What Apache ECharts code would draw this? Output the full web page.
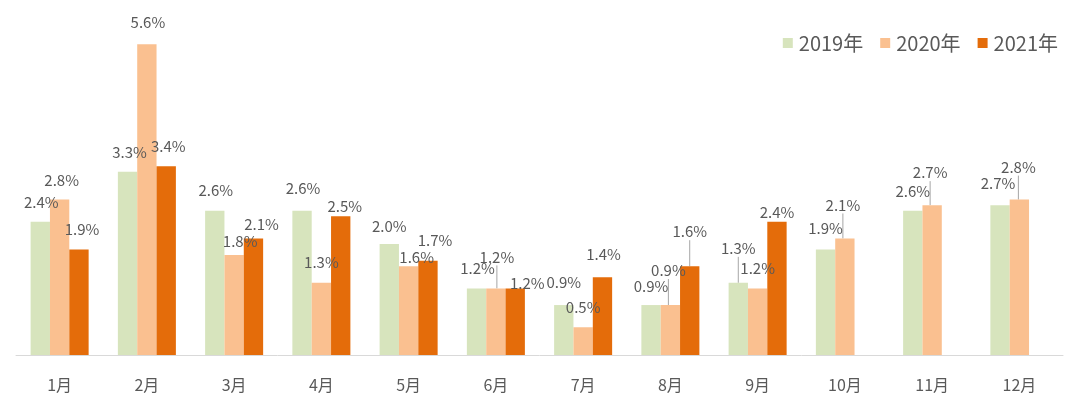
<!DOCTYPE html>
<html>
<head>
<meta charset="utf-8">
<script src="https://cdn.jsdelivr.net/npm/echarts@6/dist/echarts.min.js"></script>
<style>
html,body{margin:0;padding:0;background:#fff;}
#chart{width:1080px;height:417px;}
</style>
</head>
<body>
<div id="chart"></div>
<script>
// ---- data ----
var categories = ['1月','2月','3月','4月','5月','6月','7月','8月','9月','10月','11月','12月'];
var seriesNames = ['2019年','2020年','2021年'];
var values2019 = [2.4, 3.3, 2.6, 2.6, 2.0, 1.2, 0.9, 0.9, 1.3, 1.9, 2.6, 2.7];
var values2020 = [2.8, 5.6, 1.8, 1.3, 1.6, 1.2, 0.5, 0.9, 1.2, 2.1, 2.7, 2.8];
var values2021 = [1.9, 3.4, 2.1, 2.5, 1.7, 1.2, 1.4, 1.6, 2.4, null, null, null];

// ---- label placement tweaks (style, not data) ----
var labelShift = [
  [[1,1],[2,1],[1,0],[1,-2],[0,3],[1,0],[0,-2],[0,2],[0,-14],[0,-1],[0,1],[-2,-1]],
  [[2,1],[1,-1],[6,7],[0,0],[8,12],[1,-11],[0,1],[-2,-14],[0,0],[-2,-13],[-2,-12],[-1,-12]],
  [[3,0],[2,0],[8,6],[4,11],[7,0],[12,15],[1,-3],[0,-14],[0,11],[0,0],[0,0],[0,0]]
];
var leaderItems = [[8],[5,7,9,10,11],[7]];

var colors = ['#d7e4bd', '#fac090', '#e46c0a'];
var font = '"Noto Sans CJK SC", "Noto Sans", sans-serif';

function buildData(vals, si) {
  return vals.map(function (v, i) {
    var item = { value: v };
    if (leaderItems[si].indexOf(i) >= 0) {
      item.labelLine = { show: true };
    }
    return item;
  });
}

var allValues = [values2019, values2020, values2021];
var series = allValues.map(function (vals, si) {
  return {
    name: seriesNames[si],
    type: 'bar',
    data: buildData(vals, si),
    barGap: '0%',
    barCategoryGap: '33.5%',
    itemStyle: { color: colors[si] },
    label: {
      show: true,
      position: 'top',
      distance: 12,
      color: '#595959',
      fontSize: 15,
      lineHeight: 17,
      fontFamily: font,
      formatter: function (p) { return p.value == null ? '' : p.value.toFixed(1) + '%'; }
    },
    labelLine: { show: false, lineStyle: { color: '#a6a6a6', width: 1 } },
    labelLayout: function (params) {
      var s = labelShift[si][params.dataIndex] || [0, 0];
      return { dx: s[0], dy: s[1] };
    },
    emphasis: { disabled: true }
  };
});

var chart = echarts.init(document.getElementById('chart'), null, { renderer: 'canvas' });
chart.setOption({
  animation: false,
  backgroundColor: '#ffffff',
  color: colors,
  legend: {
    data: seriesNames,
    right: 17,
    top: 28,
    icon: 'rect',
    itemWidth: 10,
    itemHeight: 10,
    itemGap: 17,
    textStyle: { color: '#595959', fontSize: 20, fontFamily: font, padding: [0, 0, 0, 1] }
  },
  grid: { left: 16, right: 17, top: 22, bottom: 62 },
  xAxis: {
    type: 'category',
    data: categories,
    axisLine: { lineStyle: { color: '#d9d9d9', width: 1 } },
    axisTick: { show: false },
    axisLabel: { color: '#595959', fontSize: 16, fontFamily: font, margin: 22 }
  },
  yAxis: {
    type: 'value',
    min: 0,
    max: 6,
    interval: 1,
    show: false,
    splitLine: { show: false }
  },
  series: series
});
</script>
</body>
</html>
